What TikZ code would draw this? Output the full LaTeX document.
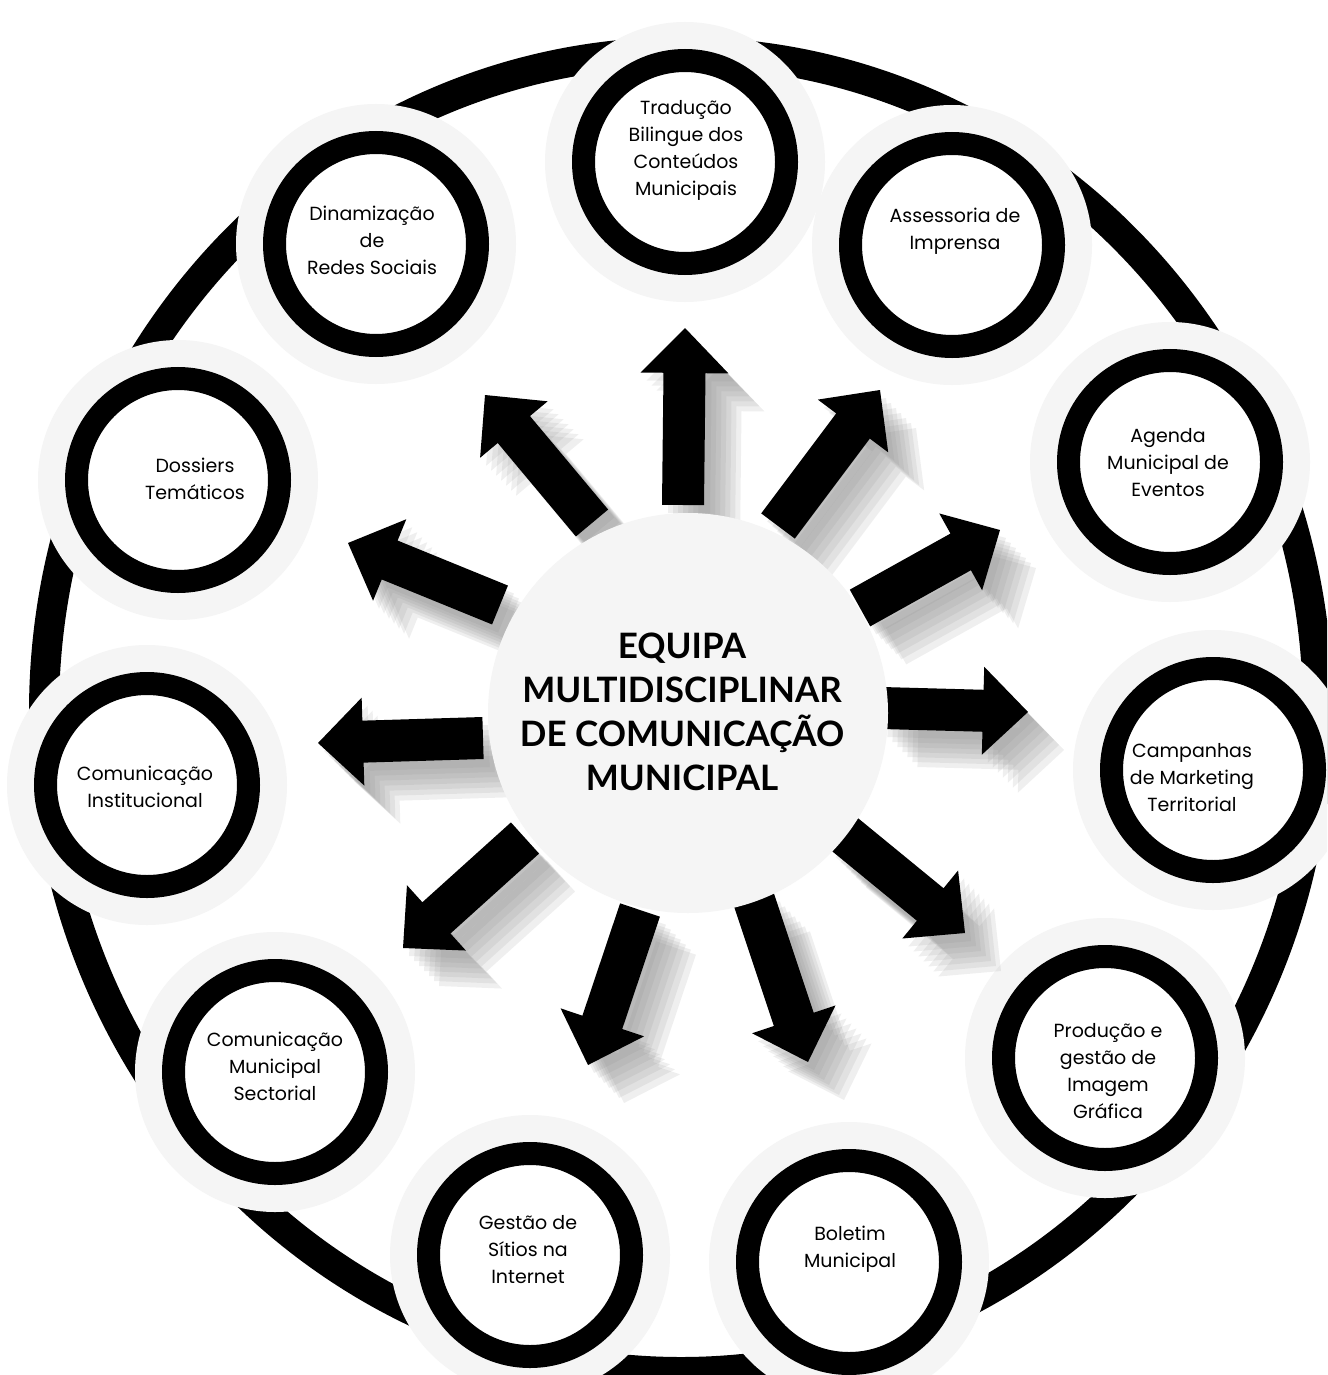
\documentclass[tikz,border=0pt]{standalone}
\usepackage{fontspec}
\setmainfont{Poppins}
\newfontfamily\centerfont{Lato}
\usetikzlibrary{calc}
\tikzset{
  halo/.style={circle, fill=black!4, minimum size=280pt, inner sep=0pt},
  bubble/.style={circle, draw=black, line width=23pt, fill=white, minimum size=203pt, inner sep=0pt},
  lbl/.style={align=center, font=\fontsize{19}{27}\selectfont, inner sep=0pt},
  arrowshape/.style={fill=black},
  shadowshape/.style={fill=black!50, opacity=0.12},
}
\newcommand{\blkarrow}[2][arrowshape]{%
  \coordinate (#2h) at ($(#2t)!45pt!(#2s)$);
  \fill[#1] ($(#2s)!21pt!90:(#2t)$) -- ($(#2h)!21pt!90:(#2t)$) -- ($(#2h)!44pt!90:(#2t)$) -- (#2t)
     -- ($(#2h)!44pt!-90:(#2t)$) -- ($(#2h)!21pt!-90:(#2t)$) -- ($(#2s)!21pt!-90:(#2t)$) -- cycle;
}
\newcommand{\shadarrow}[1]{%
  \foreach \d in {6,11,16,21,26,31,36} {%
    \begin{scope}[transform canvas={shift={(\d pt,-\d pt-2pt)}}]\blkarrow[shadowshape]{#1}\end{scope}}
}
\begin{document}
\begin{tikzpicture}[x=1pt,y=-1pt]
\useasboundingbox (0,0) rectangle (1327,1375);
\clip (0,0) rectangle (1327,1375);
\fill[white] (0,0) rectangle (1327,1375);

% big ring
\draw[line width=30pt] (681,712) ellipse [x radius=637, y radius=660];

% halos
\node[halo] (h1) at (685,162) {};
\node[halo] (h2) at (952,245) {};
\node[halo] (h3) at (1170,462) {};
\node[halo] (h4) at (1213,770) {};
\node[halo] (h5) at (1105,1058) {};
\node[halo] (h6) at (849,1262) {};
\node[halo] (h7) at (530,1255) {};
\node[halo] (h8) at (275,1072) {};
\node[halo] (h9) at (147,785) {};
\node[halo] (h10) at (178,480) {};
\node[halo] (h11) at (376,244) {};

% circles
\node[bubble] (c1) at (685,162) {};
\node[bubble] (c2) at (952,245) {};
\node[bubble] (c3) at (1170,462) {};
\node[bubble] (c4) at (1213,770) {};
\node[bubble] (c5) at (1105,1058) {};
\node[bubble] (c6) at (849,1262) {};
\node[bubble] (c7) at (530,1255) {};
\node[bubble] (c8) at (275,1072) {};
\node[bubble] (c9) at (147,785) {};
\node[bubble] (c10) at (178,480) {};
\node[bubble] (c11) at (376,244) {};

% labels
\node[lbl] (t1) at (686,150) {Tradução\\Bilingue dos\\Conteúdos\\Municipais};
\node[lbl] (t2) at (955,231) {Assessoria de\\Imprensa};
\node[lbl] (t3) at (1168,463) {Agenda\\Municipal de\\Eventos};
\node[lbl] (t4) at (1192,778) {Campanhas\\de Marketing\\Territorial};
\node[lbl] (t5) at (1108,1071) {Produção e\\gestão de\\Imagem\\Gráfica};
\node[lbl] (t6) at (850,1249) {Boletim\\Municipal};
\node[lbl] (t7) at (528,1250) {Gestão de\\Sítios na\\Internet};
\node[lbl] (t8) at (275,1066) {Comunicação\\Municipal\\Sectorial};
\node[lbl] (t9) at (145,787) {Comunicação\\Institucional};
\node[lbl] (t10) at (195,479) {Dossiers\\Temáticos};
\node[lbl] (t11) at (372,240) {Dinamização\\de\\Redes Sociais};

% arrow coordinates
\coordinate (a1s) at (683,505);  \coordinate (a1t) at (685,328);
\coordinate (a2s) at (592,523);  \coordinate (a2t) at (485,395);
\coordinate (a3s) at (778,526);  \coordinate (a3t) at (880,390);
\coordinate (a4s) at (860,608);  \coordinate (a4t) at (1000,530);
\coordinate (a5s) at (882,708);  \coordinate (a5t) at (1028,712);
\coordinate (a6s) at (843,833);  \coordinate (a6t) at (965,933);
\coordinate (a7s) at (754,900);  \coordinate (a7t) at (808,1062);
\coordinate (a8s) at (640,910);  \coordinate (a8t) at (588,1065);
\coordinate (a9s) at (525,838);  \coordinate (a9t) at (403,948);
\coordinate (a10s) at (483,738); \coordinate (a10t) at (318,743);
\coordinate (a11s) at (500,605); \coordinate (a11t) at (348,543);

% shadows
\foreach \a in {a1,a2,a3,a4,a5,a6,a7,a8,a9,a10,a11} {\shadarrow{\a}}
% arrows
\foreach \a in {a1,a2,a3,a4,a5,a6,a7,a8,a9,a10,a11} {\blkarrow{\a}}

% centre disc
\node[circle, fill=black!4, minimum size=400pt, inner sep=0pt] (ctr) at (688,713) {};
\node[align=center, inner sep=0pt, font=\centerfont\bfseries\fontsize{35}{44}\selectfont] (ctrtxt) at (682,712)
  {EQUIPA\\MULTIDISCIPLINAR\\DE COMUNICAÇÃO\\MUNICIPAL};
\end{tikzpicture}
\end{document}
